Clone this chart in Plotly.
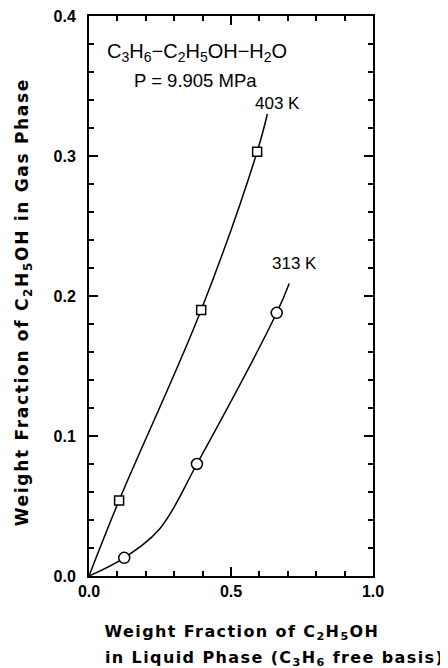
import plotly.graph_objects as go

# ---- data ----
x_403 = [0.106, 0.395, 0.592]
y_403 = [0.054, 0.190, 0.303]
curve_x_403 = [0.0, 0.106, 0.395, 0.592, 0.628]
curve_y_403 = [0.0, 0.054, 0.190, 0.303, 0.330]

x_313 = [0.124, 0.380, 0.661]
y_313 = [0.013, 0.080, 0.188]
curve_x_313 = [0.0, 0.124, 0.250, 0.380, 0.661, 0.705]
curve_y_313 = [0.0, 0.013, 0.034, 0.080, 0.188, 0.209]

x_ticks = [0.0, 0.5, 1.0]
x_tick_labels = ["0.0", "0.5", "1.0"]
y_ticks = [0.0, 0.1, 0.2, 0.3, 0.4]
y_tick_labels = ["0.0", "0.1", "0.2", "0.3", "0.4"]

TICKFONT = dict(family="Liberation Sans Narrow, Arial Narrow, sans-serif", size=16, color="black", weight="bold")
XTITLEFONT = dict(family="DejaVu Sans, sans-serif", size=16, color="black", weight="bold")
YTITLEFONT = dict(family="DejaVu Sans, sans-serif", size=17, color="black", weight="bold")
FORMULAFONT = dict(family="Liberation Sans, Arial, sans-serif", size=20, color="black")
TEXTFONT = dict(family="Liberation Sans, Arial, sans-serif", size=18.5, color="black")
LABELFONT = dict(family="Liberation Sans Narrow, Liberation Sans, sans-serif", size=17, color="black")

fig = go.Figure()
fig.add_trace(go.Scatter(x=curve_x_403, y=curve_y_403, mode="lines",
                         line=dict(color="black", width=1.5, shape="spline", smoothing=1.0),
                         showlegend=False, hoverinfo="skip"))
fig.add_trace(go.Scatter(x=curve_x_313, y=curve_y_313, mode="lines",
                         line=dict(color="black", width=1.5, shape="spline", smoothing=1.0),
                         showlegend=False, hoverinfo="skip"))
fig.add_trace(go.Scatter(x=x_403, y=y_403, mode="markers",
                         marker=dict(symbol="square", size=9, color="white",
                                     line=dict(color="black", width=1.5)),
                         showlegend=False))
fig.add_trace(go.Scatter(x=x_313, y=y_313, mode="markers",
                         marker=dict(symbol="circle", size=11, color="white",
                                     line=dict(color="black", width=1.5)),
                         showlegend=False))

axis_common = dict(showline=True, linecolor="black", linewidth=2, mirror="ticks",
                   ticks="inside", ticklen=9, tickwidth=1.5, tickcolor="black",
                   showgrid=False, zeroline=False, tickfont=TICKFONT,
                   automargin=False, ticklabeloverflow="allow")

fig.update_xaxes(range=[0, 1], tickvals=x_ticks, ticktext=x_tick_labels,
                 minor=dict(dtick=0.1, ticks="inside", ticklen=5, tickwidth=1.5, tickcolor="black"),
                 ticklabelstandoff=0, **axis_common)
fig.update_yaxes(range=[0, 0.4], tickvals=y_ticks, ticktext=y_tick_labels,
                 minor=dict(dtick=0.02, ticks="inside", ticklen=5, tickwidth=1.5, tickcolor="black"),
                 ticklabelstandoff=8, **axis_common)

# page coordinates of the plot area (the page body adds an 8 px offset)
W_PLOT = 284.0
H_PLOT = 560.0
L0 = 89.0
B0 = 576.0


def px_x(px):
    return (px - L0) / W_PLOT


def px_y(py):
    return (B0 - py) / H_PLOT


annotations = [
    dict(x=px_x(105), y=px_y(52), xref="paper", yref="paper", xanchor="left", yanchor="middle",
         text="C<sub>3</sub>H<sub>6</sub>−C<sub>2</sub>H<sub>5</sub>OH−H<sub>2</sub>O",
         showarrow=False, font=FORMULAFONT),
    dict(x=px_x(132), y=px_y(80), xref="paper", yref="paper", xanchor="left", yanchor="middle",
         text="P = 9.905 MPa", showarrow=False, font=TEXTFONT),
    dict(x=px_x(253), y=px_y(103), xref="paper", yref="paper", xanchor="left", yanchor="middle",
         text="403 K", showarrow=False, font=LABELFONT),
    dict(x=px_x(270), y=px_y(263), xref="paper", yref="paper", xanchor="left", yanchor="middle",
         text="313 K", showarrow=False, font=LABELFONT),
    dict(x=px_x(23), y=px_y(302), xref="paper", yref="paper", xanchor="center", yanchor="middle",
         text="Weight Fraction of C<sub>2</sub>H<sub>5</sub>OH in Gas Phase",
         textangle=-90, showarrow=False, font=YTITLEFONT),
    dict(x=px_x(241.5), y=px_y(632), xref="paper", yref="paper",
         xanchor="center", yanchor="middle",
         text="Weight Fraction of C<sub>2</sub>H<sub>5</sub>OH", showarrow=False, font=XTITLEFONT),
    dict(x=px_x(274), y=px_y(658), xref="paper", yref="paper",
         xanchor="center", yanchor="middle",
         text="in Liquid Phase (C<sub>3</sub>H<sub>6</sub> free basis)", showarrow=False, font=XTITLEFONT),
]

fig.update_layout(width=448, height=668,
                  margin=dict(l=L0 - 8, r=448 - (L0 + W_PLOT) - 8 + 16, t=B0 - H_PLOT - 8,
                              b=668 - B0 + 8, autoexpand=False),
                  plot_bgcolor="white", paper_bgcolor="white",
                  annotations=annotations)

post_js = """
var gd = document.getElementById('{plot_id}');
gd.querySelectorAll('text.annotation-text').forEach(function(t){
  var s = t.textContent;
  if (s.indexOf('Gas Phase') >= 0) { t.style.letterSpacing = '1.7px'; }
  else if (s.indexOf('Weight') >= 0 || s.indexOf('Liquid') >= 0) { t.style.letterSpacing = '1.4px'; }
});
"""

fig.write_html("out.html", post_script=post_js)
